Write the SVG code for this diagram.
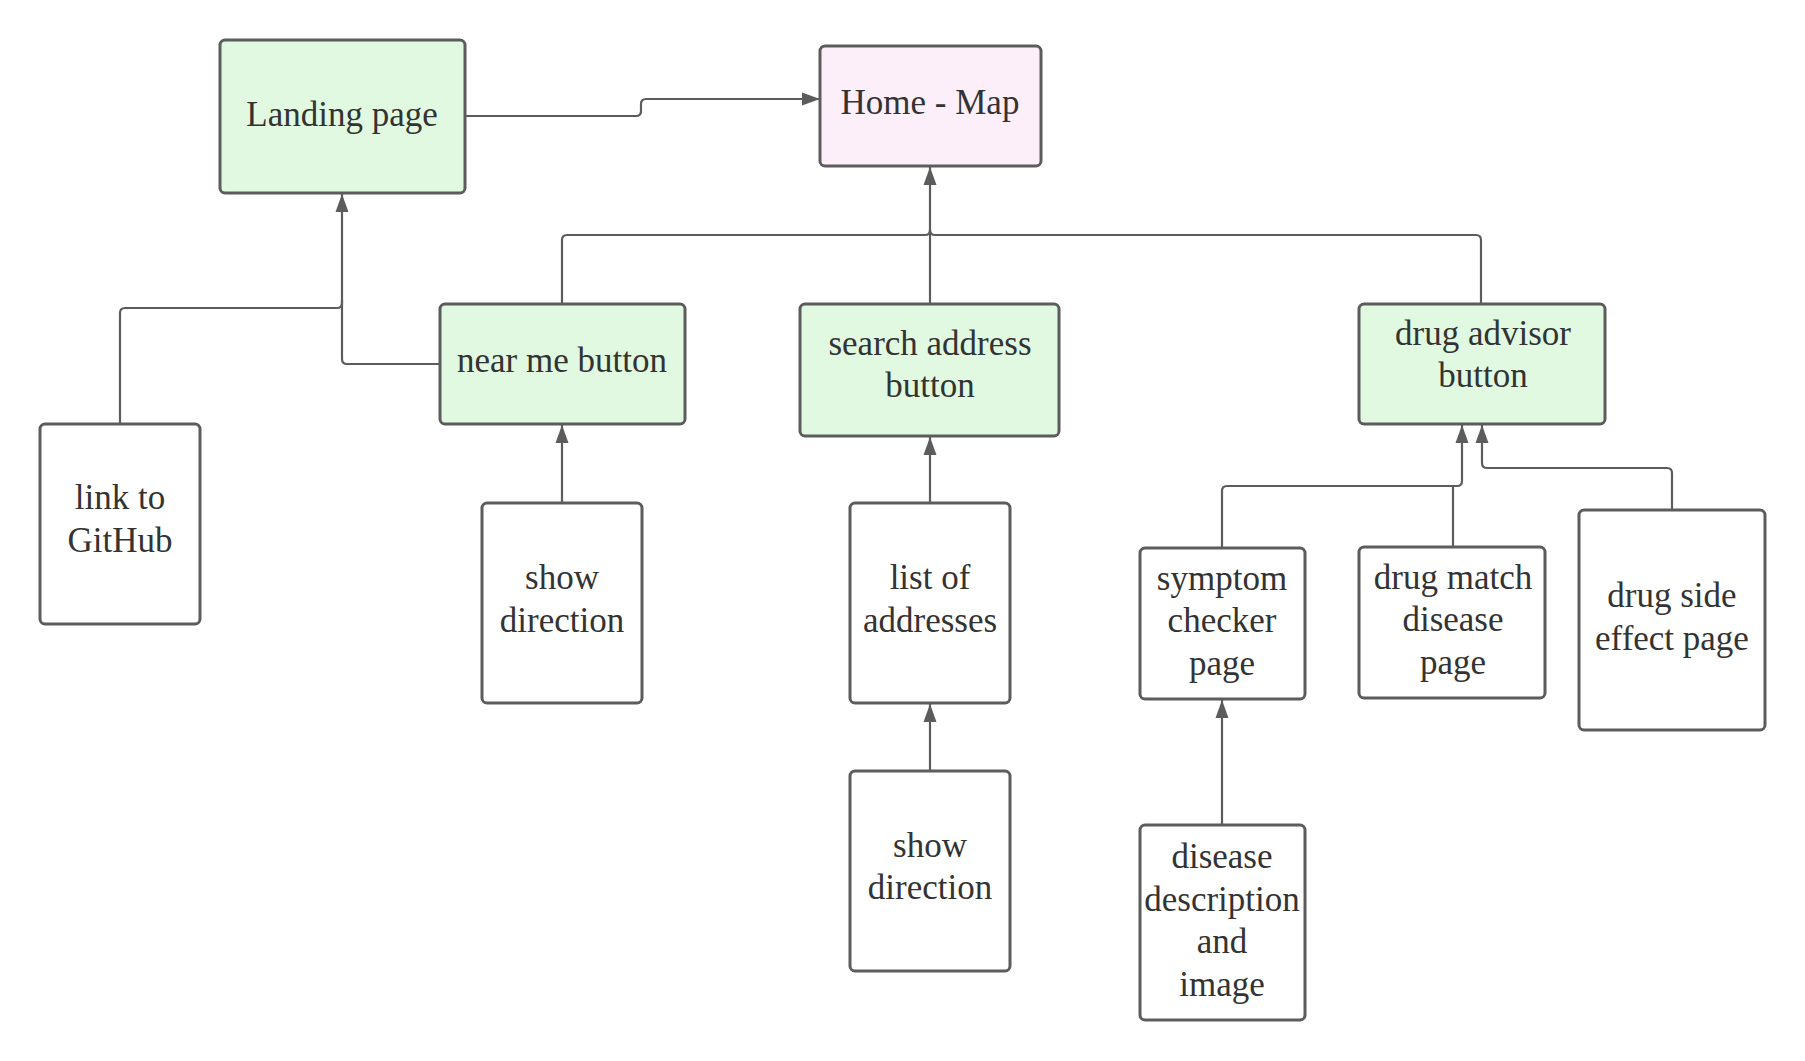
<svg xmlns="http://www.w3.org/2000/svg" width="1805" height="1061" viewBox="0 0 1805 1061">
<defs>
<style>
.box{stroke:#5c5c5c;stroke-width:3;fill:#ffffff}
.green{fill:#e0f9e0}
.pink{fill:#fdeffa}
.t{font-family:"Liberation Serif","Times New Roman",serif;font-size:35px;fill:#333333;text-anchor:middle}
.c{fill:none;stroke:#5c5c5c;stroke-width:2.2}
.a{marker-end:url(#arr)}
</style>
<marker id="arr" markerUnits="userSpaceOnUse" markerWidth="18" markerHeight="14" viewBox="0 0 18 14" refX="18" refY="7" orient="auto">
<path d="M0,0.5 L18,7 L0,13.5 Z" fill="#5c5c5c"/>
</marker>
</defs>
<rect width="1805" height="1061" fill="#ffffff"/>
<g id="connectors">
<path class="c a" d="M465,116 H636 Q641,116 641,111 V104 Q641,99 646,99 H820"/>
<path class="c a" d="M930,304 V167"/>
<path class="c" d="M562,304 V240 Q562,235 567,235 H925 Q930,235 930,230"/>
<path class="c" d="M1481,304 V240 Q1481,235 1476,235 H935 Q930,235 930,230"/>
<path class="c a" d="M120,424 V313 Q120,308 125,308 H337 Q342,308 342,303 V194"/>
<path class="c" d="M440,364 H347 Q342,364 342,359 V300"/>
<path class="c a" d="M562,503 V425"/>
<path class="c a" d="M930,503 V437"/>
<path class="c a" d="M930,771 V704"/>
<path class="c a" d="M1222,825 V700"/>
<path class="c a" d="M1222,548 V491 Q1222,486 1227,486 H1457 Q1462,486 1462,481 V425"/>
<path class="c" d="M1453,547 V486"/>
<path class="c a" d="M1672,510 V473 Q1672,468 1667,468 H1487 Q1482,468 1482,463 V425"/>
</g>
<g id="landing"><rect class="box green" x="220" y="40" width="245" height="153" rx="5"/><text class="t" x="342" y="126">Landing page</text></g>
<g id="home"><rect class="box pink" x="820" y="46" width="221" height="120" rx="5"/><text class="t" x="930" y="114">Home - Map</text></g>
<g id="nearme"><rect class="box green" x="440" y="304" width="245" height="120" rx="5"/><text class="t" x="562" y="372">near me button</text></g>
<g id="search"><rect class="box green" x="800" y="304" width="259" height="132" rx="5"/><text class="t" x="930" y="355">search address</text><text class="t" x="930" y="397">button</text></g>
<g id="drugadvisor"><rect class="box green" x="1359" y="304" width="246" height="120" rx="5"/><text class="t" x="1483" y="345">drug advisor</text><text class="t" x="1483" y="387">button</text></g>
<g id="github"><rect class="box" x="40" y="424" width="160" height="200" rx="5"/><text class="t" x="120" y="509">link to</text><text class="t" x="120" y="552">GitHub</text></g>
<g id="showdir1"><rect class="box" x="482" y="503" width="160" height="200" rx="5"/><text class="t" x="562" y="589">show</text><text class="t" x="562" y="632">direction</text></g>
<g id="addresses"><rect class="box" x="850" y="503" width="160" height="200" rx="5"/><text class="t" x="930" y="589">list of</text><text class="t" x="930" y="632">addresses</text></g>
<g id="showdir2"><rect class="box" x="850" y="771" width="160" height="200" rx="5"/><text class="t" x="930" y="857">show</text><text class="t" x="930" y="899">direction</text></g>
<g id="symptom"><rect class="box" x="1140" y="548" width="165" height="151" rx="5"/><text class="t" x="1222" y="590">symptom</text><text class="t" x="1222" y="632">checker</text><text class="t" x="1222" y="675">page</text></g>
<g id="drugmatch"><rect class="box" x="1359" y="547" width="186" height="151" rx="5"/><text class="t" x="1453" y="589">drug match</text><text class="t" x="1453" y="631">disease</text><text class="t" x="1453" y="674">page</text></g>
<g id="sideeffect"><rect class="box" x="1579" y="510" width="186" height="220" rx="5"/><text class="t" x="1672" y="607">drug side</text><text class="t" x="1672" y="650">effect page</text></g>
<g id="disease"><rect class="box" x="1140" y="825" width="165" height="195" rx="5"/><text class="t" x="1222" y="868">disease</text><text class="t" x="1222" y="911">description</text><text class="t" x="1222" y="953">and</text><text class="t" x="1222" y="996">image</text></g>
</svg>
